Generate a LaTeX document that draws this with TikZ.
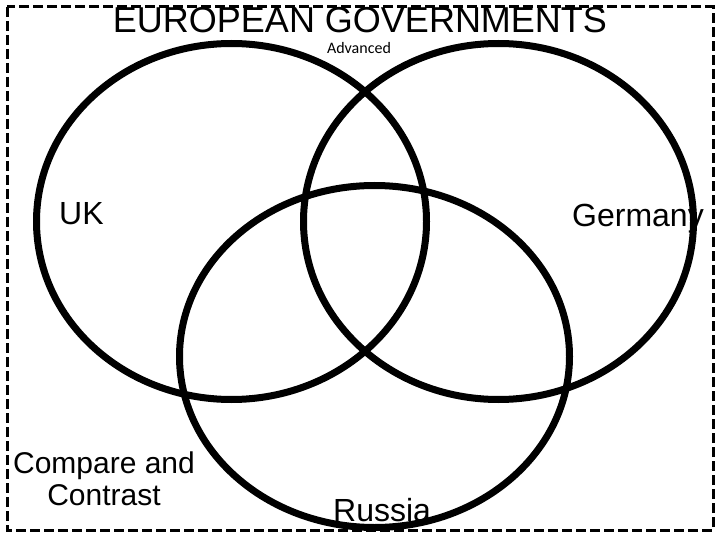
\documentclass[tikz,border=0pt]{standalone}
\usepackage{fontspec}
\setmainfont{Liberation Sans}
\newfontfamily\smallfont{Carlito}
\usetikzlibrary{shapes.geometric}

\begin{document}
\begin{tikzpicture}[x=1pt, y=-1pt,
                    every node/.style={inner sep=0pt, font=\fontsize{32}{34}\selectfont},
                    set/.style={draw, ellipse, line width=7pt, minimum width=390pt},
                    label/.style={anchor=base west}]
\useasboundingbox (0,0) rectangle (720,540);
\draw[line width=3pt, dash pattern=on 10pt off 4pt] (7,7) rectangle (713,530);
\node[set, minimum height=356pt] (uk) at (231.5,221.5) {};
\node[set, minimum height=356pt] (germany) at (498.5,221.5) {};
\node[set, minimum height=342pt] (russia) at (374.5,356.5) {};
\node[anchor=base, font=\fontsize{36}{38}\selectfont] (title) at (360,33) {EUROPEAN GOVERNMENTS};
\node[anchor=base, font=\smallfont\fontsize{16}{18}\selectfont] (adv) at (359,54) {Advanced};
\node[label] (uklabel) at (59,225) {UK};
\node[label] (gerlabel) at (572,226) {Germany};
\node[label] (ruslabel) at (333,521) {Russia};
\node[anchor=base, align=center, font=\fontsize{30}{32}\selectfont] (compare) at (104,505) {Compare and\\Contrast};
\end{tikzpicture}
\end{document}
